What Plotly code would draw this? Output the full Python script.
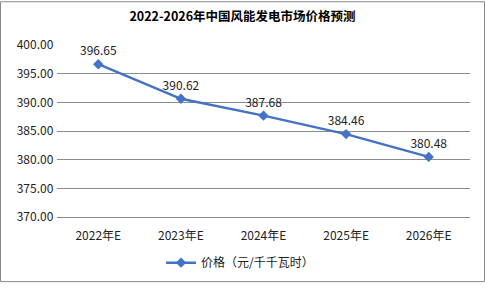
import plotly.graph_objects as go

categories = ["2022年E", "2023年E", "2024年E", "2025年E", "2026年E"]
prices = [396.65, 390.62, 387.68, 384.46, 380.48]
series_name = "价格（元/千千瓦时）"
title_text = "2022-2026年中国风能发电市场价格预测"

W, H = 485, 289
L, R, T, B = 57, 15, 45, 67
pw, ph = W - L - R, H - T - B

fig = go.Figure()
fig.add_trace(go.Scatter(
    x=categories, y=prices, mode="lines+markers+text", name=series_name,
    text=[f"{v:.2f}" for v in prices], textposition="top center",
    textfont=dict(family="Noto Sans CJK SC, sans-serif", size=12, color="#222222"),
    line=dict(color="#4472C4", width=2.5),
    marker=dict(symbol="diamond", size=8, color="#4472C4"),
    cliponaxis=False,
))

fig.update_layout(
    width=W, height=H,
    margin=dict(l=L, r=R, t=T, b=B),
    paper_bgcolor="white", plot_bgcolor="white",
    font=dict(family="Noto Sans CJK SC, sans-serif", size=12, color="#222222"),
    title=dict(text="<b>" + title_text + "</b>", x=0.5, xanchor="center",
               y=1 - 17 / H, yanchor="middle",
               font=dict(size=12.5, color="#000000")),
    xaxis=dict(type="category", showgrid=False, showline=True, linecolor="#888888",
               linewidth=1, ticks="", tickfont=dict(size=12), range=[-0.5, 4.5],
               ticklabelstandoff=8),
    yaxis=dict(range=[370, 400], dtick=5, tickformat=".2f", showgrid=True,
               gridcolor="#8c8c8c", gridwidth=1, zeroline=False, showline=False,
               ticks="", tickfont=dict(size=12), ticksuffix=" "),
    showlegend=True,
    legend=dict(orientation="h", x=(240 - L) / pw, xanchor="center",
                y=-(269 - T - ph) / ph, yanchor="middle",
                font=dict(size=12)),
    shapes=[dict(type="rect", xref="paper", yref="paper",
                 x0=-(L - 0.5) / pw, x1=1 + (R - 0.5) / pw,
                 y0=-(B - 0.5) / ph, y1=1 + (T - 0.5) / ph,
                 line=dict(color="#888888", width=1))],
)

fig.write_html("out.html")
